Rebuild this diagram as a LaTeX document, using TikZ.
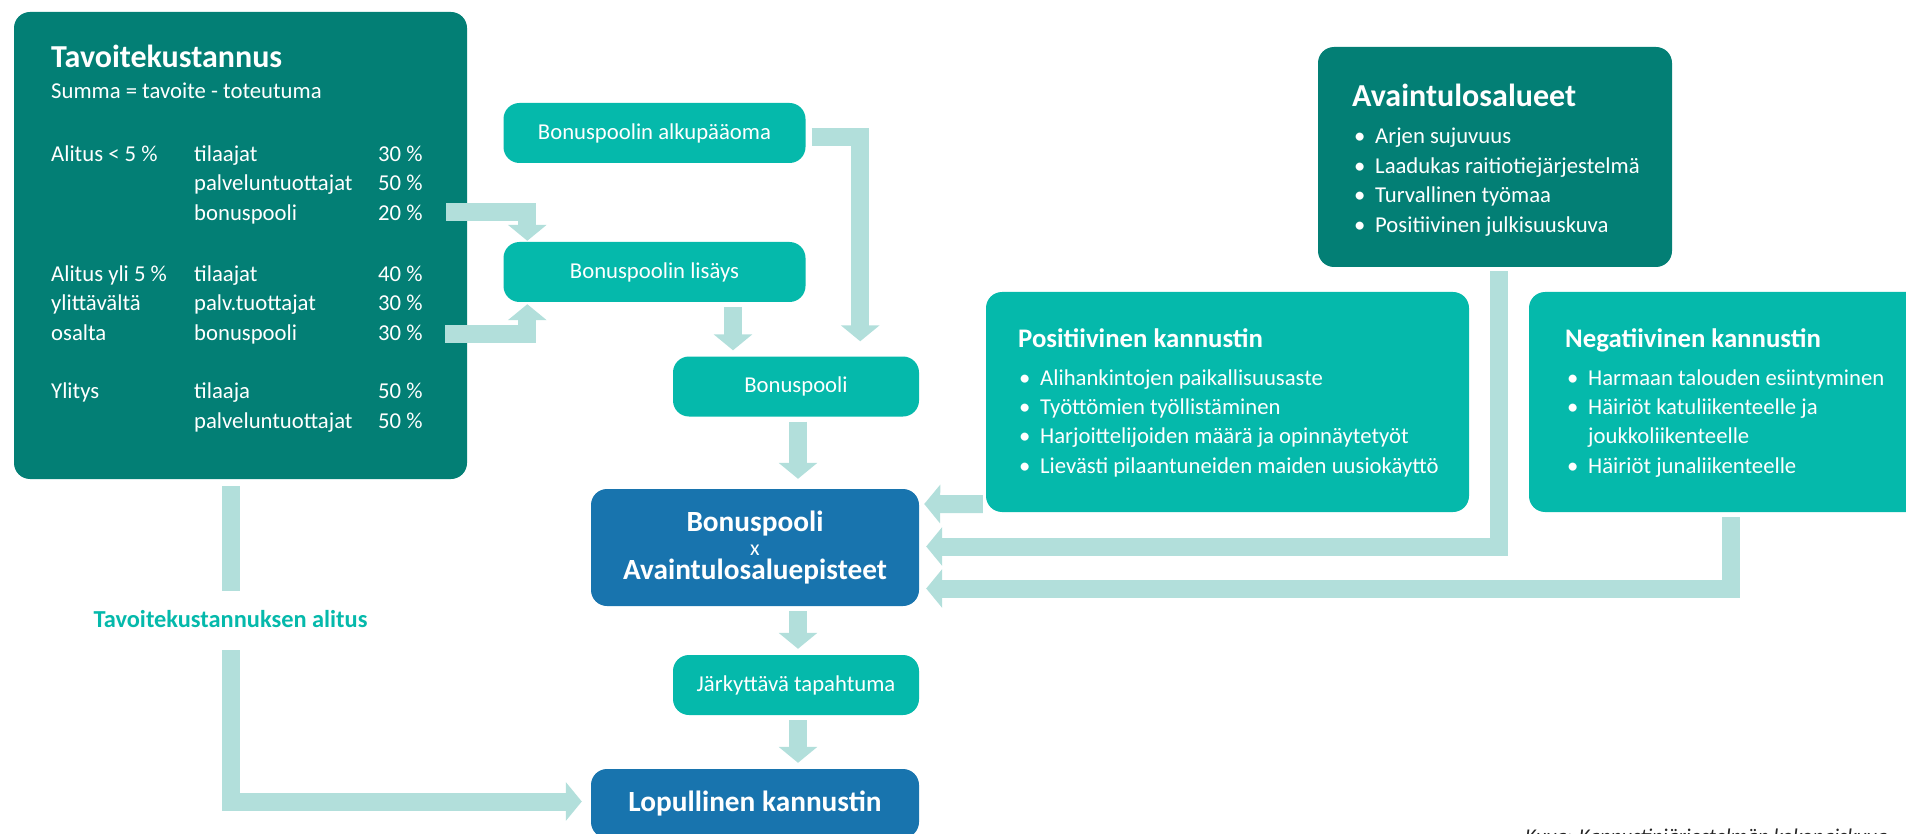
\documentclass[tikz,border=0pt]{standalone}
\usepackage{fontspec}
\setmainfont{Carlito}
\usetikzlibrary{positioning, calc, arrows.meta}

\definecolor{darkteal}{HTML}{037F75}
\definecolor{midteal}{HTML}{05B9AB}
\definecolor{deepblue}{HTML}{1874AE}
\definecolor{arrowtint}{HTML}{B2DFDB}

\tikzset{
  panel/.style={rounded corners=16pt, inner sep=0pt},
  darkpanel/.style={panel, fill=darkteal},
  tealpanel/.style={panel, fill=midteal, text=white, font=\fontsize{22.7}{27}\selectfont},
  bluepanel/.style={panel, fill=deepblue, text=white, align=center},
  bodytext/.style={text=white, inner sep=0pt, anchor=base west, font=\fontsize{22.7}{27}\selectfont},
  headtext/.style={text=white, inner sep=0pt, anchor=base west, font=\bfseries\fontsize{32}{36}\selectfont},
  subhead/.style={headtext, font=\bfseries\fontsize{26.8}{31}\selectfont},
  flow/.style={draw=arrowtint, line width=18pt, -{Triangle[length=16pt, width=38pt]}},
}

\begin{document}
\begin{tikzpicture}[x=1pt, y=-1pt]
  \newcommand\rowgap{29.4}
  \newcommand\dotgap{21}

  \useasboundingbox (0,0) rectangle (1906,834);
  \clip (0,0) rectangle (1906,834);

  % target cost panel
  \node[darkpanel, minimum width=453pt, minimum height=467pt] (tavoite) at (240.5,245.5) {};
  \node[headtext] (tavoite-title) at (51,68) {Tavoitekustannus};
  \node[bodytext] (tavoite-sub) at (51,99) {Summa = tavoite - toteutuma};
  \foreach \y/\lead/\party/\share [count=\r] in {162/Alitus < 5 \%/tilaajat/30 \%, 191//palveluntuottajat/50 \%, 221//bonuspooli/20 \%, 282/Alitus yli 5 \%/tilaajat/40 \%, 311/ylittävältä/palv.tuottajat/30 \%, 341/osalta/bonuspooli/30 \%, 398/Ylitys/tilaaja/50 \%, 428//palveluntuottajat/50 \%}{
    \node[bodytext] (lead\r) at (51,\y) {\lead};
    \node[bodytext] (party\r) at (194,\y) {\party};
    \node[bodytext] (share\r) at (378,\y) {\share};
  }
  \node[inner sep=0pt, anchor=base, text=midteal, font=\bfseries\fontsize{24.4}{28}\selectfont] (alitus) at (230.5,627) {Tavoitekustannuksen alitus};

  % bonus pool chain
  \node[tealpanel, minimum width=302pt, minimum height=60pt] (alku) at (654.5,133) {Bonuspoolin alkupääoma};
  \node[tealpanel, minimum width=302pt, minimum height=60pt] (lis) at (654.5,272) {Bonuspoolin lisäys};
  \node[tealpanel, minimum width=246pt, minimum height=60pt] (pooli) at (796,386.5) {Bonuspooli};
  \node[bluepanel, minimum width=328pt, minimum height=117pt, font=\bfseries\fontsize{29.3}{24}\selectfont] (kerroin) at (755,547.5) {Bonuspooli\\{\mdseries\fontsize{22}{24}\selectfont x}\\Avaintulosaluepisteet};
  \node[tealpanel, minimum width=246pt, minimum height=60pt] (shock) at (796,685) {Järkyttävä tapahtuma};
  \node[bluepanel, minimum width=328pt, minimum height=69pt, font=\bfseries\fontsize{29.3}{33}\selectfont] (loppu) at (755,803.5) {Lopullinen kannustin};

  % key result areas
  \node[darkpanel, minimum width=354pt, minimum height=220pt] (avain) at (1495,157) {};
  \node[headtext] (avain-title) at (1352,107) {Avaintulosalueet};
  \foreach \entry [count=\i from 0] in {Arjen sujuvuus, Laadukas raitiotiejärjestelmä, Turvallinen työmaa, Positiivinen julkisuuskuva}{
    \node[bodytext] (avain-dot\i) at (1354,144+\rowgap*\i) {\textbullet};
    \node[bodytext] (avain-item\i) at (1354+\dotgap,144+\rowgap*\i) {\entry};
  }

  % incentives
  \node[tealpanel, minimum width=483pt, minimum height=220pt] (pos) at (1227.5,402) {};
  \node[subhead] (pos-title) at (1018,348) {Positiivinen kannustin};
  \foreach \entry [count=\i from 0] in {Alihankintojen paikallisuusaste, Työttömien työllistäminen, Harjoittelijoiden määrä ja opinnäytetyöt, Lievästi pilaantuneiden maiden uusiokäyttö}{
    \node[bodytext] (pos-dot\i) at (1019,385+\rowgap*\i) {\textbullet};
    \node[bodytext] (pos-item\i) at (1019+\dotgap,385+\rowgap*\i) {\entry};
  }

  \node[tealpanel, minimum width=401pt, minimum height=220pt] (neg) at (1729.5,402) {};
  \node[subhead] (neg-title) at (1565,348) {Negatiivinen kannustin};
  \foreach \hasdot/\entry [count=\i from 0] in {1/Harmaan talouden esiintyminen, 1/Häiriöt katuliikenteelle ja, 0/joukkoliikenteelle, 1/Häiriöt junaliikenteelle}{
    \ifnum\hasdot=1
      \node[bodytext] (neg-dot\i) at (1567,385+\rowgap*\i) {\textbullet};
    \fi
    \node[bodytext] (neg-item\i) at (1567+\dotgap,385+\rowgap*\i) {\entry};
  }

  \node[inner sep=0pt, anchor=base west, text=black!85, font=\itshape\fontsize{21}{25}\selectfont] (caption) at (1525,843) {Kuva: Kannustinjärjestelmän kokonaiskuva};

  % flows
  \coordinate (cut1) at (446,212.5);
  \coordinate (cut2) at (445,333.5);
  \draw[flow] (cut1) -| ($(lis.north west)+(24,-1)$);
  \draw[flow] (cut2) -| ($(lis.south west)+(24,2)$);
  \draw[flow] ($(alku.east)+(6,4.5)$) -| ($(pooli.north east)+(-59,-15)$);
  \draw[flow] ($(lis.south)+(78.5,5)$) -- ($(pooli.north)+(-63,-6)$);
  \draw[flow] ($(pooli.south)+(2,5)$) -- ($(kerroin.north)+(43,-10)$);
  \draw[flow] ($(kerroin.south)+(43,5)$) -- ($(shock.north)+(2,-6)$);
  \draw[flow] ($(shock.south)+(2,5)$) -- ($(loppu.north)+(43,-6)$);
  \draw[flow] ($(pos.south west)+(-3,-8)$) -- ($(kerroin.east)+(5,-43.5)$);
  \draw[flow] ($(avain.south)+(4,4)$) |- ($(kerroin.east)+(7,-1)$);
  \draw[flow] ($(neg.south west)+(202.5,5)$) |- ($(kerroin.east)+(7,41)$);
  \draw[flow, -] ($(tavoite.south)+(-10,7)$) -- ($(alitus.north)+(0,-19)$);
  \draw[flow] ($(alitus.south)+(0,23)$) |- ($(loppu.west)+(-9,-2)$);
\end{tikzpicture}
\end{document}
